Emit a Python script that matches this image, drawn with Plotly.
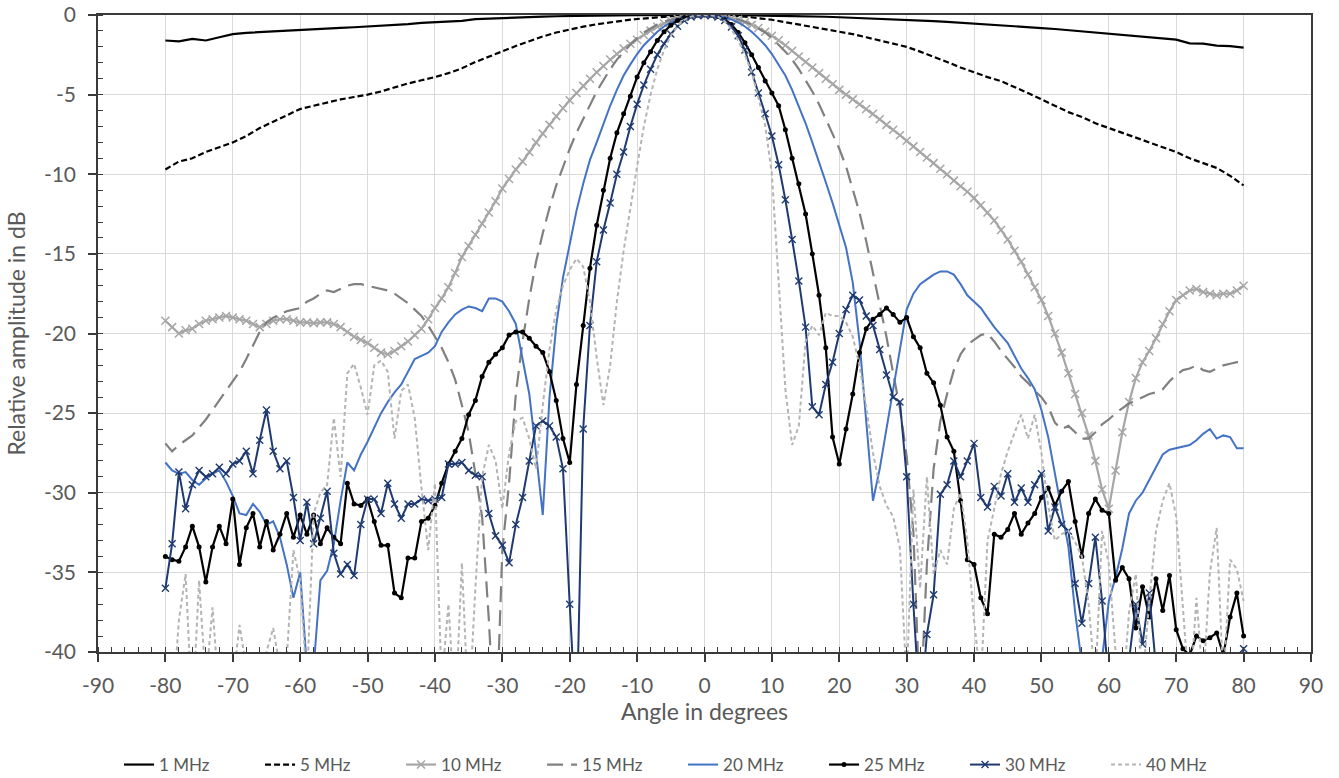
import plotly.graph_objects as go

# ---------------- data ----------------
ANGLES_FINE = list(range(-80, 81))        # 1 degree step
ANGLES_COARSE = list(range(-80, 81, 2))   # 2 degree step

MHZ_1 = [
    -1.6, -1.65, -1.5, -1.6, -1.4, -1.2, -1.12, -1.07, -1.02, -0.98,
    -0.94, -0.9, -0.85, -0.81, -0.77, -0.73, -0.68, -0.63, -0.57, -0.5,
    -0.45, -0.41, -0.37, -0.26, -0.22, -0.19, -0.15, -0.12, -0.1, -0.08,
    -0.06, -0.05, -0.04, -0.03, -0.02, -0.01, -0.01, 0.0, 0.0, 0.0,
    0.0,
    0.0, 0.0, -0.01, -0.02, -0.03, -0.05, -0.07, -0.09, -0.11, -0.14,
    -0.17, -0.2, -0.23, -0.27, -0.3, -0.34, -0.38, -0.43, -0.48, -0.53,
    -0.58, -0.64, -0.7, -0.76, -0.82, -0.88, -0.95, -1.02, -1.1, -1.17,
    -1.24, -1.31, -1.38, -1.46, -1.55, -1.78, -1.8, -1.92, -1.95, -2.05,
]

MHZ_5 = [
    -9.7, -9.2, -9.0, -8.6, -8.3, -8.0, -7.6, -7.1, -6.7, -6.3,
    -5.9, -5.7, -5.5, -5.3, -5.15, -5.0, -4.8, -4.55, -4.3, -4.1,
    -3.9, -3.65, -3.35, -2.95, -2.6, -2.3, -1.95, -1.65, -1.35, -1.1,
    -0.9, -0.73, -0.58, -0.45, -0.35, -0.25, -0.17, -0.1, -0.05, -0.02,
    0.0,
    -0.02, -0.05, -0.1, -0.2, -0.3, -0.45, -0.6, -0.75, -0.9, -1.05,
    -1.2, -1.4, -1.6, -1.8, -2.0, -2.3, -2.6, -2.95, -3.3, -3.6,
    -3.9, -4.15, -4.5, -4.9, -5.3, -5.7, -6.1, -6.4, -6.8, -7.1,
    -7.4, -7.7, -8.0, -8.3, -8.6, -9.0, -9.3, -9.6, -10.1, -10.7,
]

MHZ_10 = [
    -19.2, -19.6, -20.0, -19.8, -19.7, -19.4, -19.2, -19.1, -19.0, -18.9,
    -19.0, -19.1, -19.2, -19.4, -19.6, -19.4, -19.2, -19.1, -19.1, -19.2,
    -19.3, -19.3, -19.35, -19.3, -19.3, -19.4, -19.6, -19.9, -20.2, -20.4,
    -20.6, -20.9, -21.2, -21.3, -21.1, -20.8, -20.5, -20.1, -19.7, -19.1,
    -18.4, -17.8, -17.1, -16.2, -15.2, -14.5, -13.8, -13.1, -12.4, -11.7,
    -10.9, -10.3, -9.7, -9.2, -8.6, -8.0, -7.45, -6.9, -6.35, -5.85,
    -5.35, -4.9, -4.45, -4.0, -3.6, -3.2, -2.8, -2.45, -2.1, -1.8,
    -1.55, -1.25, -0.98, -0.74, -0.53, -0.36, -0.22, -0.12, -0.05, -0.01,
    0.0,
    -0.01, -0.04, -0.1, -0.18, -0.3, -0.45, -0.62, -0.82, -1.05, -1.3,
    -1.58, -1.9, -2.25, -2.6, -2.95, -3.3, -3.65, -4.0, -4.35, -4.7,
    -5.0, -5.3, -5.6, -5.9, -6.2, -6.55, -6.9, -7.2, -7.55, -7.9,
    -8.25, -8.6, -8.95, -9.3, -9.65, -10.0, -10.4, -10.75, -11.1, -11.5,
    -11.95, -12.4, -12.9, -13.5, -14.1, -14.8, -15.5, -16.3, -17.1, -17.9,
    -18.9, -20.0, -21.2, -22.5, -23.8, -25.0, -26.4, -28.0, -29.8, -31.0,
    -28.6, -26.2, -24.3, -22.8, -21.8, -21.1, -20.3, -19.4, -18.6, -17.9,
    -17.6, -17.3, -17.2, -17.4, -17.5, -17.6, -17.5, -17.5, -17.3, -17.0,
]

MHZ_15 = [
    -26.9, -27.4, -27.0, -26.7, -26.4, -25.9, -25.4, -24.8, -24.2, -23.6,
    -23.0, -22.4, -21.6, -20.7, -19.9, -19.3, -19.0, -18.8, -18.6, -18.5,
    -18.4, -18.0, -17.8, -17.5, -17.3, -17.4, -17.2, -17.0, -16.9, -16.9,
    -17.0, -17.1, -17.2, -17.3, -17.5, -17.8, -18.1, -18.5, -18.9, -19.5,
    -20.2, -20.9, -21.8, -22.9, -24.5, -26.2, -28.8, -31.5, -38.0, -46.0,
    -33.6, -29.4, -23.8, -20.5, -17.8, -15.5, -13.7, -12.1, -10.7, -9.5,
    -8.4, -7.4, -6.5, -5.6, -4.8, -4.1, -3.4, -2.8, -2.3, -1.85,
    -1.45, -1.1, -0.85, -0.6, -0.42, -0.28, -0.17, -0.09, -0.04, -0.01,
    0.0,
    -0.01, -0.04, -0.09, -0.17, -0.28, -0.42, -0.6, -0.85, -1.1, -1.45,
    -1.85, -2.3, -2.8, -3.4, -4.1, -4.8, -5.6, -6.5, -7.4, -8.4,
    -9.5, -10.9, -12.4, -14.2, -16.2, -18.0, -20.2, -22.5, -24.7, -27.7,
    -32.5, -44.0, -34.5, -28.5, -25.5, -23.8, -22.3, -21.3, -20.7, -20.4,
    -20.1, -20.0, -20.5, -21.1, -21.6, -22.1, -22.7, -23.1, -23.6, -24.0,
    -24.6, -25.6, -26.0, -25.8, -26.2, -26.6, -26.6, -26.2, -25.7, -25.4,
    -25.0, -24.7, -24.4, -24.2, -24.0, -23.8, -23.7, -23.5, -23.0, -22.6,
    -22.3, -22.2, -22.0, -22.3, -22.4, -22.2, -22.0, -21.9, -21.8, -21.8,
]

MHZ_20 = [
    -28.1, -28.6, -28.8, -28.7, -29.2, -29.5, -29.1, -28.8, -28.6, -29.3,
    -30.2, -31.3, -31.4, -30.7, -31.2, -32.0, -31.8, -32.8, -34.5, -36.6,
    -35.0, -41.0, -41.0, -35.5, -34.9, -33.2, -30.5, -28.1, -28.6, -27.6,
    -26.8, -25.9, -25.0, -24.3, -23.7, -23.2, -22.4, -21.6, -21.4, -21.2,
    -20.8, -19.9, -19.3, -18.8, -18.5, -18.3, -18.4, -18.6, -17.8, -17.8,
    -18.0, -18.6, -19.4, -21.5, -23.8, -27.5, -31.4, -24.0, -19.5, -16.5,
    -14.3, -12.3, -10.6, -9.1, -8.0, -6.8, -5.7, -4.7, -3.8, -3.1,
    -2.45, -1.9, -1.45, -1.05, -0.72, -0.47, -0.28, -0.14, -0.06, -0.01,
    0.0,
    -0.01, -0.06, -0.14, -0.28, -0.47, -0.72, -1.05, -1.45, -1.9, -2.45,
    -3.1, -3.8, -4.7, -5.7, -6.8, -8.0, -9.2, -10.5, -11.8, -13.2,
    -14.6, -16.8, -20.5, -25.5, -30.5, -28.5, -26.0, -23.5, -21.0, -18.5,
    -17.5, -16.9, -16.6, -16.3, -16.1, -16.1, -16.3, -16.9, -17.6, -18.0,
    -18.4, -19.0, -19.6, -20.1, -20.6, -21.4, -22.2, -22.8, -23.5, -24.8,
    -26.5, -28.8, -31.2, -33.4, -37.5, -41.0, -44.0, -44.0, -40.5, -36.8,
    -35.3, -33.5, -31.3, -30.5, -30.0, -29.2, -28.4, -27.6, -27.3, -27.2,
    -27.1, -27.0, -26.7, -26.3, -26.0, -26.6, -26.4, -26.5, -27.2, -27.2,
]

MHZ_25 = [
    -34.0, -34.2, -34.3, -33.4, -32.1, -33.4, -35.6, -33.4, -32.1, -33.2,
    -30.4, -34.5, -32.2, -31.3, -33.4, -31.8, -33.6, -32.6, -31.3, -32.8,
    -31.4, -32.6, -31.4, -33.2, -32.2, -32.8, -33.2, -29.4, -30.7, -30.8,
    -30.4, -31.8, -33.3, -33.3, -36.3, -36.6, -34.1, -34.1, -31.8, -31.6,
    -30.8, -29.4, -28.2, -27.4, -26.6, -25.1, -24.2, -22.7, -21.8, -21.3,
    -20.9, -20.1, -19.9, -19.9, -20.3, -20.8, -21.2, -22.4, -24.2, -26.6,
    -28.1, -23.2, -19.5, -15.9, -13.2, -11.0, -9.0, -7.4, -6.2, -5.1,
    -3.9, -3.0, -2.3, -1.6, -1.05, -0.65, -0.35, -0.16, -0.06, -0.01,
    0.0,
    -0.02, -0.1, -0.3, -0.6, -1.1, -1.75, -2.5, -3.3, -4.15, -4.9,
    -5.7, -7.2, -9.0, -10.6, -12.5, -15.0, -17.6, -20.9, -26.5, -28.2,
    -26.0, -23.8, -21.2, -19.7, -19.1, -18.8, -18.4, -18.8, -19.3, -19.0,
    -20.2, -20.9, -22.5, -23.1, -24.5, -26.5, -27.4, -30.5, -34.2, -34.5,
    -36.6, -37.6, -32.6, -32.8, -32.3, -31.3, -32.6, -31.9, -31.3, -30.3,
    -29.7, -30.8, -29.9, -29.3, -31.8, -34.0, -31.3, -30.4, -31.1, -31.3,
    -35.5, -34.7, -35.4, -38.5, -35.9, -37.8, -35.4, -37.4, -35.2, -38.6,
    -39.8, -40.2, -39.0, -39.3, -39.1, -38.8, -40.2, -37.8, -36.3, -39.0,
]

MHZ_30 = [
    -36.0, -33.2, -28.7, -31.0, -29.5, -28.6, -29.0, -28.8, -28.4, -28.8,
    -28.2, -28.0, -27.4, -28.8, -26.7, -24.8, -27.4, -28.5, -28.0, -30.3,
    -33.0, -30.6, -33.2, -31.6, -29.9, -33.8, -35.1, -34.5, -35.2, -32.0,
    -30.4, -30.4, -31.3, -29.4, -30.7, -31.6, -30.7, -30.7, -30.4, -30.5,
    -30.4, -30.3, -28.2, -28.2, -28.1, -28.6, -28.9, -29.0, -31.3, -32.7,
    -33.3, -34.4, -32.0, -30.3, -28.0, -25.8, -25.5, -25.8, -26.5, -28.5,
    -37.0, -45.0, -26.0, -19.5, -15.5, -13.5, -11.8, -10.0, -8.6, -7.0,
    -5.6, -4.4, -3.4, -2.5, -1.8, -1.2, -0.7, -0.35, -0.12, -0.03,
    0.0,
    -0.03, -0.12, -0.35, -0.75, -1.3, -2.2, -3.6, -4.9, -6.2, -7.6,
    -9.4, -11.6, -14.1, -16.7, -19.6, -24.6, -25.1, -23.2, -21.8, -20.0,
    -18.5, -17.6, -17.9, -18.9, -19.5, -21.0, -22.6, -24.0, -24.3, -29.0,
    -37.0, -44.0, -38.9, -36.4, -30.1, -29.5, -28.0, -29.0, -28.0, -26.9,
    -30.3, -30.9, -29.6, -30.2, -28.8, -30.6, -29.7, -30.6, -29.5, -28.8,
    -32.4, -30.9, -32.0, -32.4, -35.7, -38.2, -35.7, -32.8, -36.8, -42.0,
    -43.0, -42.0, -40.5, -37.0, -39.5, -36.3, -41.0, -42.0, -43.0, -43.0,
    -42.0, -43.0, -42.0, -43.0, -42.0, -43.0, -42.0, -43.0, -42.0, -39.8,
]

MHZ_40 = [
    -42.0, -44.0, -38.0, -35.1, -44.0, -35.5, -42.0, -37.2, -43.0, -44.0,
    -42.0, -38.3, -41.0, -44.0, -44.0, -40.0, -38.5, -41.0, -40.5, -33.6,
    -35.5, -42.0, -31.3, -30.0, -29.5, -25.3, -29.0, -22.5, -21.9, -23.4,
    -25.1, -22.0, -21.7, -22.4, -26.6, -23.6, -23.2, -25.3, -29.7, -33.6,
    -29.4, -42.0, -37.0, -44.0, -34.4, -44.0, -36.0, -29.0, -27.0, -28.0,
    -31.0, -27.5, -25.5, -25.3, -26.6, -28.5, -24.5, -21.0, -18.5, -17.0,
    -16.0, -15.3, -15.8, -18.0, -21.5, -24.5, -22.0, -18.0, -14.8, -12.0,
    -9.5, -7.0, -5.0, -3.4, -2.2, -1.3, -0.7, -0.3, -0.1, -0.02,
    0.0,
    -0.02, -0.1, -0.4, -0.9, -1.6, -2.5, -3.6, -5.2, -6.9, -10.0,
    -16.5, -23.5, -27.0, -25.8, -20.5, -19.5, -20.1, -18.7, -18.9, -18.9,
    -19.3, -20.2, -22.0, -24.6, -27.5, -29.6, -30.8, -31.5, -33.5, -42.0,
    -29.8, -36.0, -29.0, -35.1, -33.6, -34.5, -31.0, -30.0, -33.0, -38.0,
    -42.0, -33.0, -31.0, -28.8, -27.4, -26.2, -25.1, -26.6, -25.1, -27.5,
    -30.8, -33.0, -32.6, -32.4, -33.1, -34.0, -37.0, -42.0, -32.4, -34.5,
    -40.0, -43.0, -37.5, -35.1, -42.0, -36.8, -32.4, -30.5, -29.4, -31.5,
    -37.0, -43.0, -36.6, -42.0, -35.0, -32.2, -42.0, -34.2, -34.8, -36.8,
]

SERIES_NAMES = ["1 MHz", "5 MHz", "10 MHz", "15 MHz", "20 MHz", "25 MHz", "30 MHz", "40 MHz"]
SERIES_X = [ANGLES_COARSE, ANGLES_COARSE, ANGLES_FINE, ANGLES_FINE,
            ANGLES_FINE, ANGLES_FINE, ANGLES_FINE, ANGLES_FINE]
SERIES_Y = [MHZ_1, MHZ_5, MHZ_10, MHZ_15, MHZ_20, MHZ_25, MHZ_30, MHZ_40]

X_TICKS = list(range(-90, 91, 10))
Y_TICKS = list(range(-40, 1, 5))

for xs, ys, nm in zip(SERIES_X, SERIES_Y, SERIES_NAMES):
    if len(xs) != len(ys):
        raise ValueError(f"{nm}: {len(xs)} angles vs {len(ys)} values")

# ---------------- styles ----------------
STYLES = [
    dict(line=dict(color="#000000", width=2.2, dash="solid"), mode="lines"),
    dict(line=dict(color="#000000", width=2.2, dash="6px,3px"), mode="lines"),
    dict(line=dict(color="#a6a6a6", width=2.2, dash="solid"), mode="lines+markers",
         marker=dict(symbol="x-thin", size=8, line=dict(width=1.5, color="#a6a6a6"))),
    dict(line=dict(color="#808080", width=2.2, dash="16px,8px"), mode="lines"),
    dict(line=dict(color="#4472c4", width=2.0, dash="solid"), mode="lines"),
    dict(line=dict(color="#000000", width=2.2, dash="solid"), mode="lines+markers",
         marker=dict(symbol="circle", size=5, color="#000000")),
    dict(line=dict(color="#1f3a70", width=2.0, dash="solid"), mode="lines+markers",
         marker=dict(symbol="x-thin", size=7, line=dict(width=1.4, color="#1f3a70"))),
    dict(line=dict(color="#b4b4b4", width=2.0, dash="4px,3px"), mode="lines"),
]

fig = go.Figure()
for xs, ys, nm, st in zip(SERIES_X, SERIES_Y, SERIES_NAMES, STYLES):
    fig.add_trace(go.Scatter(x=xs, y=ys, name=nm, **st))

FONT = "Lato, 'Open Sans', sans-serif"
TXT = "#595959"
AX = "#3a3a3a"
GRID = "#d9d9d9"

fig.update_layout(
    width=1339, height=778,
    margin=dict(l=98, r=28, t=15, b=126),
    paper_bgcolor="white", plot_bgcolor="white",
    font=dict(family=FONT, color=TXT),
    showlegend=True,
    legend=dict(
        orientation="h", xref="container", yref="container",
        x=0.0889, y=0.0167, xanchor="left", yanchor="middle",
        entrywidth=96, entrywidthmode="pixels",
        font=dict(size=17, color=TXT, family=FONT),
        traceorder="normal", bgcolor="rgba(0,0,0,0)",
    ),
    xaxis=dict(
        range=[-90, 90], tickmode="array", tickvals=X_TICKS,
        ticktext=[str(v) for v in X_TICKS],
        showgrid=True, gridcolor=GRID, gridwidth=1, zeroline=False,
        showline=True, linecolor=AX, linewidth=1.5, mirror=True,
        ticks="outside", ticklen=8, tickwidth=1.5, tickcolor=AX,
        tickfont=dict(size=21, color=TXT, family=FONT),
        ticklabelstandoff=6, ticklabeloverflow="allow",
        minor=dict(ticks="inside", tick0=-90, dtick=2, ticklen=5, tickwidth=1.2,
                   tickcolor=AX, showgrid=False),
        title=dict(text="Angle in degrees", font=dict(size=23, color=TXT, family=FONT),
                   standoff=5),
        automargin=False,
    ),
    yaxis=dict(
        range=[-40, 0], tickmode="array", tickvals=Y_TICKS,
        ticktext=[str(v) for v in Y_TICKS],
        showgrid=True, gridcolor=GRID, gridwidth=1, zeroline=False,
        showline=True, linecolor=AX, linewidth=1.5, mirror=True,
        ticks="outside", ticklen=8, tickwidth=1.5, tickcolor=AX,
        tickfont=dict(size=21, color=TXT, family=FONT),
        ticklabelstandoff=8, ticklabeloverflow="allow",
        minor=dict(ticks="inside", tick0=0, dtick=1, ticklen=5, tickwidth=1.2,
                   tickcolor=AX, showgrid=False),
        title=dict(text="Relative amplitude in dB", font=dict(size=23, color=TXT, family=FONT),
                   standoff=12),
        automargin=False,
    ),
)

fig.write_html(
    "out.html",
    config={"displayModeBar": False},
    post_script="document.body.style.margin='0';document.body.style.overflow='hidden';",
)
